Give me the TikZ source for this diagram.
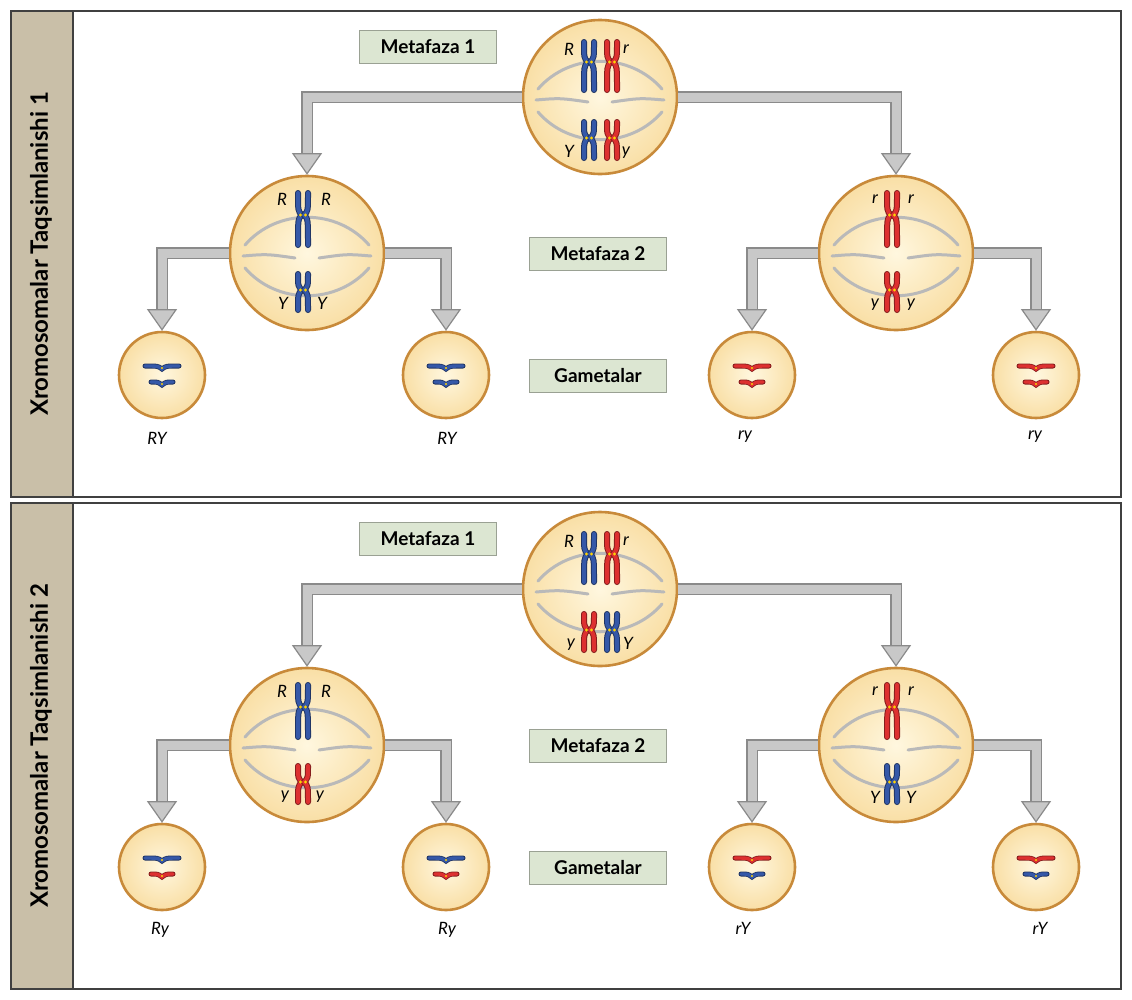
\documentclass[tikz,border=0pt]{standalone}
\usepackage{fontspec}
\setmainfont{Lato}
\usetikzlibrary{calc}
\definecolor{cin}{HTML}{FFF7DF}
\definecolor{cout}{HTML}{F9DFA6}
\definecolor{cbd}{HTML}{C88A3A}
\definecolor{cblue}{HTML}{3558A8}
\definecolor{cred}{HTML}{DD3030}
\definecolor{side}{HTML}{C9BFA8}
\definecolor{lab}{HTML}{DCE6D2}
\definecolor{shaftc}{HTML}{C8C8C8}
\definecolor{shaftd}{HTML}{8A8A8A}
\newcommand{\chromV}[5]{%
 \foreach \s in {-1,1}{%
  \draw[line width=6pt,line cap=round,#5!60!black] ({#1+\s*5},{#2-#3}) .. controls ({#1+\s*5},{#2-4}) .. ({#1+\s*1.2},{#2}) .. controls ({#1+\s*5},{#2+4}) .. ({#1+\s*5},{#2+#4});
  \draw[line width=4pt,line cap=round,#5] ({#1+\s*5},{#2-#3}) .. controls ({#1+\s*5},{#2-4}) .. ({#1+\s*1.2},{#2}) .. controls ({#1+\s*5},{#2+4}) .. ({#1+\s*5},{#2+#4});}
 \fill[yellow!70!orange] ({#1-2.5},{#2}) circle (1.6pt) ({#1+2.5},{#2}) circle (1.6pt);}
\newcommand{\chromH}[4]{%
 \draw[line width=5pt,line cap=round,#4!60!black] ({#1-#3},{#2-1}) .. controls ({#1-4},{#2-1}) .. ({#1},{#2+2}) .. controls ({#1+4},{#2-1}) .. ({#1+#3},{#2-1});
 \draw[line width=3.4pt,line cap=round,#4] ({#1-#3},{#2-1}) .. controls ({#1-4},{#2-1}) .. ({#1},{#2+2}) .. controls ({#1+4},{#2-1}) .. ({#1+#3},{#2-1});
 \fill[yellow!70!orange] (#1,{#2+1}) circle (1.2pt);}
\newcommand{\spindle}[2]{%
 \draw[line width=3pt,gray!55,line cap=round] ({#1-62},{#2-8}) .. controls ({#1-30},{#2-45}) and ({#1+30},{#2-45}) .. ({#1+62},{#2-8});
 \draw[line width=3pt,gray!55,line cap=round] ({#1-64},{#2+3}) .. controls ({#1-40},{#2+1}) .. ({#1-12},{#2+5});
 \draw[line width=3pt,gray!55,line cap=round] ({#1+64},{#2+3}) .. controls ({#1+40},{#2+1}) .. ({#1+12},{#2+5});
 \draw[line width=3pt,gray!55,line cap=round] ({#1-62},{#2+15}) .. controls ({#1-30},{#2+52}) and ({#1+30},{#2+52}) .. ({#1+62},{#2+15});}
\newcommand{\arrowdown}[2]{%
 \draw[line width=12pt,shaftd] (#1) -| ($(#2.north)+(0,-19)$);
 \draw[line width=9pt,shaftc] (#1) -| ($(#2.north)+(0,-18.5)$);
 \filldraw[fill=shaftc,draw=shaftd,line width=1.2pt,line join=miter] ($(#2.north)+(-14,-21)$) -- ($(#2.north)+(14,-21)$) -- ($(#2.north)+(0,-1)$) -- cycle;}
\tikzset{
 cell/.style={circle,minimum size=#1,inner sep=0,draw=cbd,line width=2.6pt,inner color=cin,outer color=cout},
 lbl/.style={fill=lab,draw=lab!70!black,line width=0.4pt,minimum width=137pt,minimum height=33pt,font=\bfseries\fontsize{19}{19}\selectfont},
 gn/.style={font=\itshape\fontsize{17}{17}\selectfont},
 al/.style={font=\itshape\fontsize{17}{17}\selectfont},
 sidet/.style={rotate=90,font=\bfseries\fontsize{24}{24}\selectfont}}
\begin{document}
\begin{tikzpicture}[x=1pt,y=-1pt]
\useasboundingbox (0,0) rectangle (1132,999);
\fill[white] (0,0) rectangle (1132,999);
\foreach \o/\n in {0/1,492/2}{
 \fill[side] (11,{11+\o}) rectangle (72,{497+\o});
 \draw[line width=2.4pt,gray!50!black] (11,{11+\o}) rectangle (1121,{497+\o});
 \draw[line width=2.4pt,gray!50!black] (73,{11+\o}) -- (73,{497+\o});
 \node[sidet] (side\n) at (41,{254+\o}) {Xromosomalar Taqsimlanishi \n};
 \node[lbl] (m1\n) at (428,{47+\o}) {Metafaza 1};
 \node[lbl] (m2\n) at (598,{254+\o}) {Metafaza 2};
 \node[lbl] (ga\n) at (598,{376+\o}) {Gametalar};
 \node[cell=154pt] (L\n) at (307,{253+\o}) {};
 \node[cell=154pt] (R\n) at (896,{253+\o}) {};
 \foreach \g/\gx in {a/162,b/446,c/752,d/1036}{\node[cell=86pt] (g\g\n) at (\gx,{375+\o}) {};}
 \node[cell=154pt] (T\n) at (600,{97+\o}) {};
 \arrowdown{T\n.west}{L\n}
 \arrowdown{T\n.east}{R\n}
 \arrowdown{L\n.west}{ga\n}
 \arrowdown{L\n.east}{gb\n}
 \arrowdown{R\n.west}{gc\n}
 \arrowdown{R\n.east}{gd\n}
 \spindle{600}{97+\o}
 \spindle{307}{253+\o}
 \spindle{896}{253+\o}
}
% panel 1 top
\chromV{589}{62}{20}{28}{cblue}\chromV{612}{62}{20}{28}{cred}
\chromV{589}{138}{16}{20}{cblue}\chromV{612}{138}{16}{20}{cred}
\node[al] (a1) at (569,49) {R}; \node[al] (a2) at (626,49) {r};
\node[al] (a3) at (569,151) {Y}; \node[al] (a4) at (626,153) {y};
% panel 1 level 2
\chromV{303}{215}{22}{30}{cblue}\chromV{303}{290}{16}{20}{cblue}
\node[al] (a5) at (282,199) {R}; \node[al] (a6) at (326,199) {R};
\node[al] (a7) at (283,303) {Y}; \node[al] (a8) at (322,303) {Y};
\chromV{892}{215}{22}{30}{cred}\chromV{892}{290}{16}{20}{cred}
\node[al] (a9) at (875,199) {r}; \node[al] (a10) at (911,199) {r};
\node[al] (a11) at (875,305) {y}; \node[al] (a12) at (911,305) {y};
% panel 1 gametes
\foreach \gx/\c in {162/cblue,446/cblue,752/cred,1036/cred}{\chromH{\gx}{367}{17}{\c}\chromH{\gx}{383}{11}{\c}}
\node[gn] (b1) at (157,438) {RY}; \node[gn] (b2) at (447,438) {RY};
\node[gn] (b3) at (745,437) {ry}; \node[gn] (b4) at (1035,437) {ry};
% panel 2 top
\chromV{589}{554}{20}{28}{cblue}\chromV{612}{554}{20}{28}{cred}
\chromV{589}{630}{16}{20}{cred}\chromV{612}{630}{16}{20}{cblue}
\node[al] (c1) at (569,541) {R}; \node[al] (c2) at (626,541) {r};
\node[al] (c3) at (571,645) {y}; \node[al] (c4) at (628,643) {Y};
% panel 2 level 2
\chromV{303}{707}{22}{30}{cblue}\chromV{303}{782}{16}{20}{cred}
\node[al] (c5) at (282,691) {R}; \node[al] (c6) at (326,691) {R};
\node[al] (c7) at (285,797) {y}; \node[al] (c8) at (320,797) {y};
\chromV{892}{707}{22}{30}{cred}\chromV{892}{782}{16}{20}{cblue}
\node[al] (c9) at (875,691) {r}; \node[al] (c10) at (911,691) {r};
\node[al] (c11) at (875,797) {Y}; \node[al] (c12) at (911,797) {Y};
% panel 2 gametes
\foreach \gx/\c/\d in {162/cblue/cred,446/cblue/cred,752/cred/cblue,1036/cred/cblue}{\chromH{\gx}{859}{17}{\c}\chromH{\gx}{875}{11}{\d}}
\node[gn] (d1) at (160,930) {Ry}; \node[gn] (d2) at (447,930) {Ry};
\node[gn] (d3) at (743,928) {rY}; \node[gn] (d4) at (1040,928) {rY};
\end{tikzpicture}
\end{document}
